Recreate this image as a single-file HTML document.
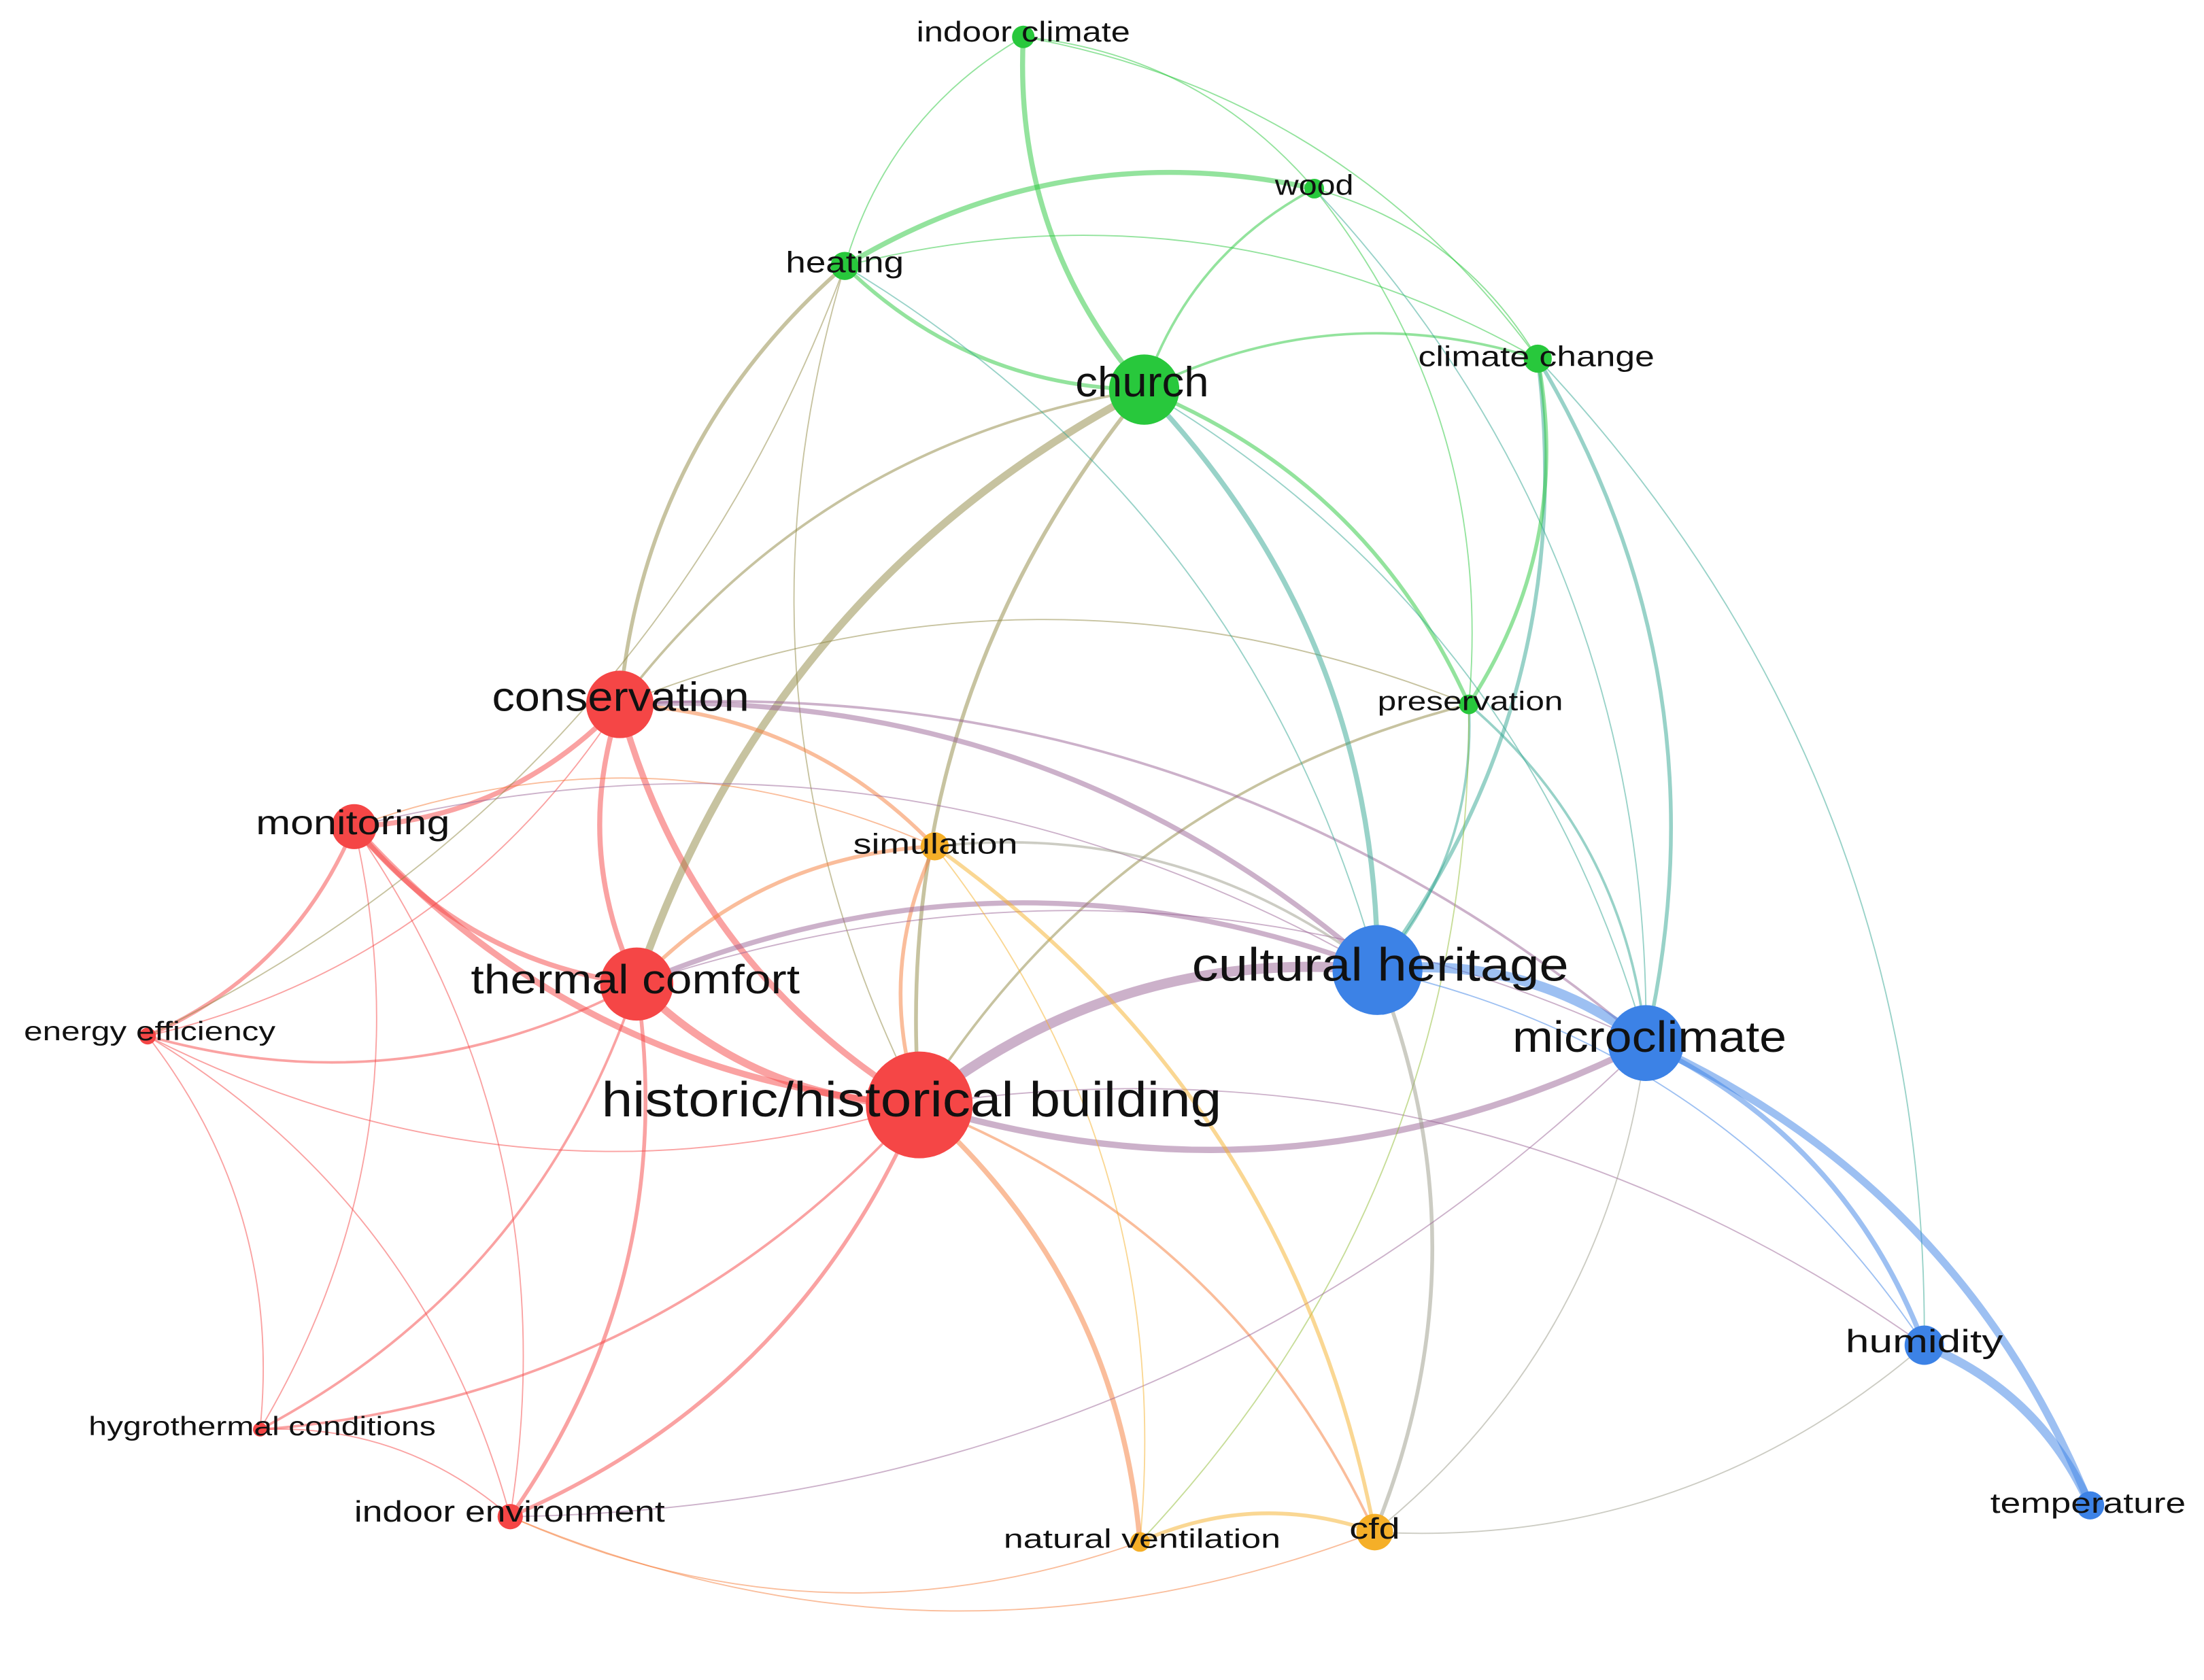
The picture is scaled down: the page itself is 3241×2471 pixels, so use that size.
<!DOCTYPE html>
<html><head><meta charset="utf-8">
<style>
html,body{margin:0;padding:0;background:#fff;}
svg{display:block;}
text{font-family:"Liberation Sans",sans-serif;fill:#111;}
</style></head>
<body>
<svg id="s" width="3241" height="2471" viewBox="0 0 1568 1195" xmlns="http://www.w3.org/2000/svg">
<g id="edges" fill="none" stroke-linecap="round"></g>
<g id="nodes"></g>
<g dominant-baseline="middle" lengthAdjust="spacingAndGlyphs">
<text x="652" y="24" font-size="20" textLength="152" lengthAdjust="spacingAndGlyphs">indoor climate</text>
<text x="907" y="133" font-size="20" textLength="56" lengthAdjust="spacingAndGlyphs">wood</text>
<text x="559" y="188" font-size="21" textLength="84" lengthAdjust="spacingAndGlyphs">heating</text>
<text x="765" y="274" font-size="30" textLength="95" lengthAdjust="spacingAndGlyphs">church</text>
<text x="1009" y="255" font-size="20" textLength="168" lengthAdjust="spacingAndGlyphs">climate change</text>
<text x="980" y="500" font-size="19" textLength="132" lengthAdjust="spacingAndGlyphs">preservation</text>
<text x="350" y="498" font-size="29" textLength="183" lengthAdjust="spacingAndGlyphs">conservation</text>
<text x="182" y="587" font-size="24" textLength="138" lengthAdjust="spacingAndGlyphs">monitoring</text>
<text x="607" y="602" font-size="20" textLength="117" lengthAdjust="spacingAndGlyphs">simulation</text>
<text x="335" y="699" font-size="29" textLength="234" lengthAdjust="spacingAndGlyphs">thermal comfort</text>
<text x="17" y="735" font-size="19" textLength="179" lengthAdjust="spacingAndGlyphs">energy efficiency</text>
<text x="848" y="689" font-size="33" textLength="268" lengthAdjust="spacingAndGlyphs">cultural heritage</text>
<text x="1076" y="740" font-size="31" textLength="195" lengthAdjust="spacingAndGlyphs">microclimate</text>
<text x="428" y="785" font-size="35" textLength="441" lengthAdjust="spacingAndGlyphs">historic/historical building</text>
<text x="1313" y="956" font-size="23" textLength="112" lengthAdjust="spacingAndGlyphs">humidity</text>
<text x="1416" y="1071" font-size="20" textLength="139" lengthAdjust="spacingAndGlyphs">temperature</text>
<text x="63" y="1016" font-size="19" textLength="247" lengthAdjust="spacingAndGlyphs">hygrothermal conditions</text>
<text x="252" y="1077" font-size="21" textLength="221" lengthAdjust="spacingAndGlyphs">indoor environment</text>
<text x="714" y="1096" font-size="19" textLength="197" lengthAdjust="spacingAndGlyphs">natural ventilation</text>
<text x="960" y="1089" font-size="21" textLength="36" lengthAdjust="spacingAndGlyphs">cfd</text>
</g>
</svg>
<script>
var C={r:[245,70,70],g:[40,200,60],b:[60,130,230],o:[245,175,40]};
var N={
ic:[728,26,8,'g'],wood:[935,134,7,'g'],heat:[601,189,10,'g'],church:[814,277,25,'g'],cc:[1094,255,10,'g'],pres:[1045,501,7,'g'],
cons:[441,501,24,'r'],mon:[252,588,16,'r'],sim:[665,602,10,'o'],tc:[453,700,26,'r'],ee:[105,737,6,'r'],
cult:[980,690,32,'b'],micro:[1171,742,27,'b'],hb:[654,786,38,'r'],hum:[1369,957,14,'b'],temp:[1487,1071,10,'b'],
hyg:[185,1017,5,'r'],ie:[363,1079,9,'r'],nv:[811,1097,7,'o'],cfd:[978,1090,13,'o']};
var E=[
['hb','cult',8],['hb','tc',6],['hb','cons',5],['hb','mon',5],['micro','hb',5],['hb','church',3],['hb','sim',3],['hb','nv',4],['hb','cfd',2],['hb','ie',3],['hb','hyg',2],['hb','ee',1],['hb','pres',2],['hb','heat',1],['hb','hum',1],
['tc','church',6],['tc','cons',4],['tc','mon',4],['tc','cult',4],['tc','sim',3],['tc','ie',3],['tc','hyg',2],['tc','ee',2],['tc','micro',1],
['cons','mon',4],['cons','church',2],['cons','heat',3],['cons','sim',3],['cons','cult',4],['cons','micro',2],['cons','ee',1],['cons','pres',1],
['mon','ee',3],['mon','ie',1],['mon','hyg',1],['mon','sim',1],['mon','cult',1],
['church','heat',3],['church','ic',4],['church','cult',4],['church','pres',3],['church','cc',2],['church','wood',2],['church','micro',1],
['heat','wood',4],['heat','ic',1],['heat','cc',1],['heat','ee',1],['heat','cult',1],
['ic','wood',1],['ic','cc',1],['wood','cc',1],['wood','pres',1],['wood','micro',1],
['cc','cult',3],['cc','micro',3],['cc','pres',3],['cc','hum',1],
['pres','cult',2],['pres','micro',2],['pres','nv',1],
['cult','micro',8],['cult','cfd',3],['cult','hum',1],
['micro','hum',4],['micro','temp',6],['micro','cfd',1],['micro','ie',1],
['hum','temp',7],['hum','cfd',1],
['sim','cfd',3],['sim','nv',1],['sim','cult',2],
['nv','cfd',3],['cfd','ie',1],['nv','ie',1],['hyg','ie',1],['ee','hyg',1],['ee','ie',1]];
var g=document.getElementById('edges'),ns='http://www.w3.org/2000/svg';
E.forEach(function(e){var a=N[e[0]],b=N[e[1]];var ca=C[a[3]],cb=C[b[3]];
var col='rgb('+[0,1,2].map(function(i){return Math.round((ca[i]+cb[i])/2)}).join(',')+')';
var dx=b[0]-a[0],dy=b[1]-a[1];var mx=(a[0]+b[0])/2+dy*0.2,my=(a[1]+b[1])/2-dx*0.2;
var p=document.createElementNS(ns,'path');p.setAttribute('d','M'+a[0]+' '+a[1]+' Q'+mx+' '+my+' '+b[0]+' '+b[1]);
p.setAttribute('stroke',col);p.setAttribute('stroke-width',e[2]*0.9);p.setAttribute('stroke-opacity',0.5);g.appendChild(p);});
var ng=document.getElementById('nodes');
for(var k in N){var n=N[k],c=C[n[3]];var ci=document.createElementNS(ns,'circle');ci.setAttribute('cx',n[0]);ci.setAttribute('cy',n[1]);ci.setAttribute('r',n[2]);
ci.setAttribute('fill','rgb('+c.join(',')+')');ng.appendChild(ci);}
</script>
</body></html>
